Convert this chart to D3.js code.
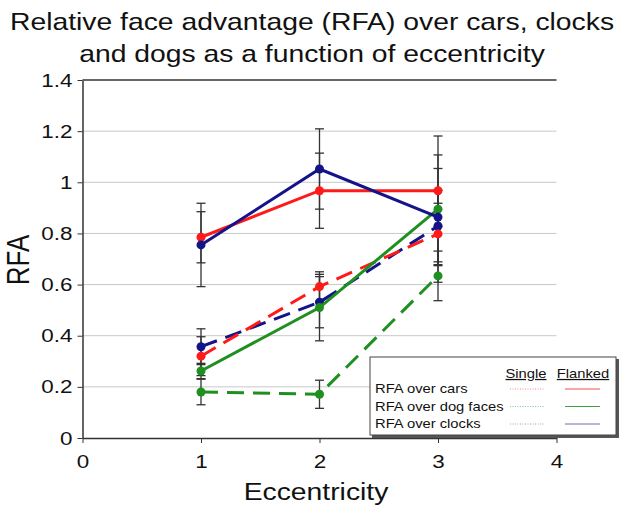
<!DOCTYPE html>
<html>
<head>
<meta charset="utf-8">
<script src="https://cdn.jsdelivr.net/npm/d3@7"></script>
<style>
  body { margin: 0; background: #fff; }
  svg { display: block; font-family: "Liberation Sans", Arial, sans-serif; }
</style>
</head>
<body>
<div id="vis"></div>
<script>
// eccentricity levels
var eccentricity = [1, 2, 3];

// flanked (solid lines)
var carsFlanked = [0.785, 0.967, 0.967];
var carsFlankedErr = [0.10, 0.147, 0.14];
var clocksFlanked = [0.755, 1.052, 0.864];
var clocksFlankedErr = [0.163, 0.157, 0.19];
var dogsFlanked = [0.262, 0.51, 0.895];
var dogsFlankedErr = [0.03, 0.13, 0.286];

// single (dashed lines)
var carsSingle = [0.32, 0.592, 0.798];
var carsSingleErr = [0.076, 0.058, 0.12];
var clocksSingle = [0.357, 0.531, 0.829];
var clocksSingleErr = [0.07, 0.1, 0.14];
var dogsSingle = [0.18, 0.171, 0.634];
var dogsSingleErr = [0.05, 0.055, 0.097];

var xTicks = [0, 1, 2, 3, 4];
var yTicks = [0, 0.2, 0.4, 0.6, 0.8, 1, 1.2, 1.4];

var legendRows = ["RFA over cars", "RFA over dog faces", "RFA over clocks"];

function draw() {
  var width = 624, height = 516;
  var sx = 1.18; // the original is stretched horizontally

  var svg = d3.select("#vis").append("svg")
              .attr("width", width)
              .attr("height", height);

  var x = d3.scaleLinear().domain([0, 4]).range([82.5, 556.5]);
  var y = d3.scaleLinear().domain([0, 1.4]).range([438, 80]);

  function label(txt, px, py, size, anchor) {
    return svg.append("text")
              .attr("transform", "translate(" + px + "," + py + ") scale(" + sx + ",1)")
              .attr("text-anchor", anchor || "middle")
              .attr("font-size", size)
              .attr("fill", "#111")
              .text(txt);
  }

  // title
  label("Relative face advantage (RFA) over cars, clocks", 312, 30, 24);
  label("and dogs as a function of eccentricity", 312, 62, 24);

  // grid
  svg.append("g").selectAll("line")
     .data(yTicks.filter(function(d){ return d > 0 && d < 1.4; }))
     .enter().append("line")
     .attr("x1", x(0)).attr("x2", x(4))
     .attr("y1", function(d){ return y(d); })
     .attr("y2", function(d){ return y(d); })
     .attr("stroke", "#c8c8c8")
     .attr("stroke-width", 1);

  // top frame
  svg.append("line")
     .attr("x1", x(0)).attr("x2", x(4))
     .attr("y1", y(1.4)).attr("y2", y(1.4))
     .attr("stroke", "#333").attr("stroke-width", 1.5);

  // axes
  var yAxis = svg.append("g")
     .attr("transform", "translate(" + x(0) + ",0)")
     .call(d3.axisLeft(y).tickValues(yTicks).tickSize(5).tickSizeOuter(0)
       .tickFormat(function(d){ return String(+d.toFixed(1)); }));
  yAxis.selectAll("text")
     .attr("font-size", 19)
     .attr("font-family", "Liberation Sans, Arial, sans-serif")
     .attr("fill", "#111")
     .attr("x", -10 / sx)
     .attr("transform", "scale(" + sx + ",1)");

  var xAxis = svg.append("g")
     .attr("transform", "translate(0," + y(0) + ")")
     .call(d3.axisBottom(x).tickValues(xTicks).tickSize(5).tickSizeOuter(0)
       .tickFormat(d3.format("d")));
  xAxis.selectAll("text")
     .attr("font-size", 19)
     .attr("font-family", "Liberation Sans, Arial, sans-serif")
     .attr("fill", "#111")
     .attr("y", 30).attr("dy", 0)
     .attr("transform", "scale(" + sx + ",1)");

  svg.selectAll(".domain").attr("stroke", "#333").attr("stroke-width", 1.5);
  svg.selectAll(".tick line").attr("stroke", "#333");

  // axis titles
  label("Eccentricity", 316, 500, 24);
  svg.append("text")
     .attr("transform", "translate(29,260) scale(" + sx + ",1) rotate(-90)")
     .attr("text-anchor", "middle")
     .attr("font-size", 26)
     .attr("fill", "#111")
     .text("RFA");

  var series = [
    { vals: carsFlanked, err: carsFlankedErr, color: "#ff1a1a", dash: null },
    { vals: clocksFlanked, err: clocksFlankedErr, color: "#14148a", dash: null },
    { vals: dogsFlanked, err: dogsFlankedErr, color: "#1f8f1f", dash: null },
    { vals: carsSingle, err: carsSingleErr, color: "#ff1a1a", dash: "17,9" },
    { vals: clocksSingle, err: clocksSingleErr, color: "#14148a", dash: "17,9" },
    { vals: dogsSingle, err: dogsSingleErr, color: "#1f8f1f", dash: "17,9" }
  ];

  // error bars
  var eb = svg.append("g").attr("stroke", "#333").attr("stroke-width", 1.3);
  series.forEach(function(s) {
    eccentricity.forEach(function(e, i) {
      var lo = s.vals[i] - s.err[i], hi = s.vals[i] + s.err[i];
      eb.append("line").attr("x1", x(e)).attr("x2", x(e)).attr("y1", y(lo)).attr("y2", y(hi));
      eb.append("line").attr("x1", x(e) - 4.5).attr("x2", x(e) + 4.5).attr("y1", y(lo)).attr("y2", y(lo));
      eb.append("line").attr("x1", x(e) - 4.5).attr("x2", x(e) + 4.5).attr("y1", y(hi)).attr("y2", y(hi));
    });
  });

  var line = d3.line()
               .x(function(d, i){ return x(eccentricity[i]); })
               .y(function(d){ return y(d); });

  // draw singles first then flanked
  var order = [5, 4, 3, 2, 0, 1];
  order.forEach(function(k) {
    var s = series[k];
    svg.append("path")
       .attr("d", line(s.vals))
       .attr("fill", "none")
       .attr("stroke", s.color)
       .attr("stroke-width", 3)
       .attr("stroke-dasharray", s.dash);
    svg.append("g").selectAll("circle")
       .data(s.vals).enter().append("circle")
       .attr("cx", function(d, i){ return x(eccentricity[i]); })
       .attr("cy", function(d){ return y(d); })
       .attr("r", 4.5)
       .attr("fill", s.color);
  });

  // legend
  var lg = svg.append("g");
  lg.append("rect").attr("x", 372).attr("y", 359).attr("width", 247).attr("height", 79)
    .attr("fill", "#555");
  lg.append("rect").attr("x", 370).attr("y", 357).attr("width", 246).attr("height", 78)
    .attr("fill", "#fff").attr("stroke", "#444").attr("stroke-width", 1);

  label("Single", 526, 378, 12.5).style("text-decoration", "underline");
  label("Flanked", 583, 378, 12.5).style("text-decoration", "underline");

  var singleCols = ["#f08a8a", "#8fc08f", "#a0a0c0"];
  var flankCols = ["#ee5050", "#40a040", "#7070a0"];
  legendRows.forEach(function(t, i) {
    var by = 393 + i * 17.5;
    label(t, 375, by, 12.5, "start");
    lg.append("line").attr("x1", 510).attr("x2", 545).attr("y1", by - 4).attr("y2", by - 4)
      .attr("stroke", singleCols[i]).attr("stroke-width", 1).attr("stroke-dasharray", "1,1.5");
    lg.append("line").attr("x1", 565).attr("x2", 600).attr("y1", by - 4).attr("y2", by - 4)
      .attr("stroke", flankCols[i]).attr("stroke-width", 1);
  });
}

draw();
</script>
</body>
</html>
